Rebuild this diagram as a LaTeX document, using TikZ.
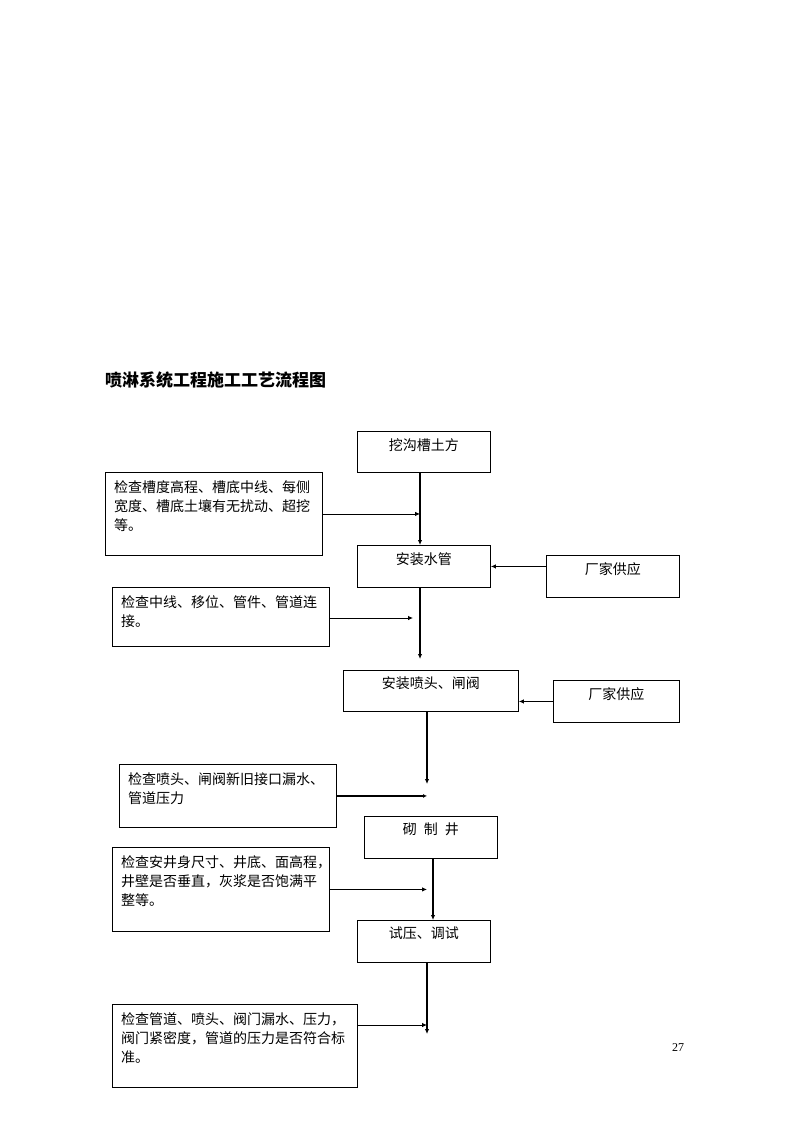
\documentclass[tikz,border=0pt]{standalone}
\usepackage{fontspec}
\newfontfamily\cjk{Noto Sans CJK SC}
\setmainfont{Liberation Serif}
\usetikzlibrary{arrows.meta}
\begin{document}
\begin{tikzpicture}[x=1pt,y=-1pt,
  box/.style={draw,line width=0.9pt,anchor=north west,inner sep=0pt},
  btext/.style={anchor=north,inner sep=0pt,font=\cjk\fontsize{14}{19}\selectfont},
  ktext/.style={anchor=north west,inner sep=0pt,align=left,font=\cjk\fontsize{14}{19}\selectfont},
  mainline/.style={line width=1.8pt,-{Latex[length=5pt,width=4.5pt]}},
  sideline/.style={line width=0.8pt,-{Latex[length=5pt,width=4.5pt]}},
  sidethick/.style={line width=1.6pt,-{Latex[length=4pt,width=4pt]}}]
\useasboundingbox (0,0) rectangle (794,1123);
% title
\node[anchor=west,inner sep=0pt,font=\cjk\bfseries\fontsize{17}{20}\selectfont] (title) at (105,380) {喷淋系统工程施工工艺流程图};
% main boxes
\node[box,minimum width=133pt,minimum height=41pt] (b1) at (357,431) {};
\node[btext] (t1) at ([yshift=-7pt]b1.north) {挖沟槽土方};
\node[box,minimum width=133pt,minimum height=42pt] (b2) at (357,545) {};
\node[btext] (t2) at ([yshift=-7pt]b2.north) {安装水管};
\node[box,minimum width=175pt,minimum height=41pt] (b3) at (343,670) {};
\node[btext] (t3) at ([yshift=-7pt]b3.north) {安装喷头、闸阀};
\node[box,minimum width=133pt,minimum height=42pt] (b4) at (364,816) {};
\node[btext] (t4) at ([yshift=-7pt]b4.north) {砌\hspace{7pt}制\hspace{7pt}井};
\node[box,minimum width=133pt,minimum height=42pt] (b5) at (357,920) {};
\node[btext] (t5) at ([yshift=-7pt]b5.north) {试压、调试};
% supply boxes
\node[box,minimum width=133pt,minimum height=42pt] (f1) at (546,555) {};
\node[btext] (tf1) at ([yshift=-7pt]f1.north) {厂家供应};
\node[box,minimum width=126pt,minimum height=42pt] (f2) at (553,680) {};
\node[btext] (tf2) at ([yshift=-7pt]f2.north) {厂家供应};
% check boxes
\node[box,minimum width=217pt,minimum height=83pt] (k1) at (105,472) {};
\node[ktext] (tk1) at ([shift={(9,8)}]k1.north west) {检查槽度高程、槽底中线、每侧\\宽度、槽底土壤有无扰动、超挖\\等。};
\node[box,minimum width=217pt,minimum height=59pt] (k2) at (112,587) {};
\node[ktext] (tk2) at ([shift={(9,8)}]k2.north west) {检查中线、移位、管件、管道连\\接。};
\node[box,minimum width=217pt,minimum height=63pt] (k3) at (119,764) {};
\node[ktext] (tk3) at ([shift={(9,8)}]k3.north west) {检查喷头、闸阀新旧接口漏水、\\管道压力};
\node[box,minimum width=217pt,minimum height=84pt] (k4) at (112,847) {};
\node[ktext] (tk4) at ([shift={(9,8)}]k4.north west) {检查安井身尺寸、井底、面高程，\\井壁是否垂直，灰浆是否饱满平\\整等。};
\node[box,minimum width=245pt,minimum height=83pt] (k5) at (112,1004) {};
\node[ktext] (tk5) at ([shift={(9,8)}]k5.north west) {检查管道、喷头、阀门漏水、压力，\\阀门紧密度，管道的压力是否符合标\\准。};
% page number
\node[anchor=center,inner sep=0pt,font=\fontsize{12}{14}\selectfont] (pg) at (678,1048) {27};
% helper coordinates
\coordinate (x1) at (420,0);
\coordinate (x2) at (427,0);
\coordinate (x3) at (433,0);
\coordinate (x4) at (413,0);
\coordinate (e1) at (420,659);
\coordinate (e2) at (427,784);
\coordinate (e3) at (427,1034);
\coordinate (y5) at (0,1025);
% main flow
\draw[mainline] (b1.south -| x1) -- (b2.north -| x1);
\draw[mainline] (b2.south -| x1) -- (e1);
\draw[mainline] (b3.south -| x2) -- (e2);
\draw[mainline] (b4.south -| x3) -- (b5.north -| x3);
\draw[mainline] (b5.south -| x2) -- (e3);
% supply arrows
\draw[sideline] (f1.west |- b2.east) -- (b2.east);
\draw[sideline] (f2.west) -- (f2.west -| b3.east);
% check arrows
\draw[sideline] (k1.east) -- (k1.east -| x1);
\draw[sideline] (k2.east |- 0,618) -- (x4 |- 0,618);
\draw[sidethick] (k3.east) -- (k3.east -| x2);
\draw[sideline] (k4.east) -- (k4.east -| x2);
\draw[sideline] (k5.east |- y5) -- (x2 |- y5);
\end{tikzpicture}
\end{document}
